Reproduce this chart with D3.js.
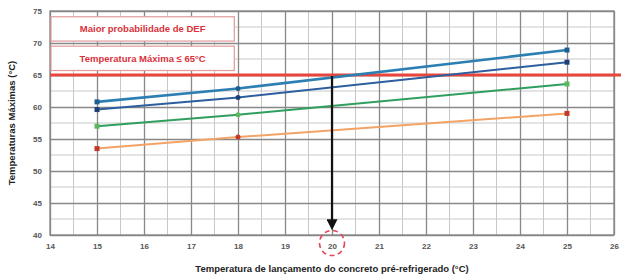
<!DOCTYPE html>
<html>
<head>
<meta charset="utf-8">
<script src="https://cdn.jsdelivr.net/npm/d3@7"></script>
<style>
  body { margin: 0; background: #fff; }
  svg { display: block; }
</style>
</head>
<body>
<div id="chart"></div>
<script>
const width = 621;
const height = 279;

// data
const xTicks = [14, 15, 16, 17, 18, 19, 20, 21, 22, 23, 24, 25, 26];
const yTicks = [40, 45, 50, 55, 60, 65, 70, 75];
const placement = [15, 18, 25];
const seriesTeal = [60.8, 62.9, 68.9];
const seriesNavy = [59.6, 61.5, 67.0];
const seriesGreen = [57.0, 58.8, 63.6];
const seriesOrange = [53.5, 55.3, 59.0];
const limit = 65;
const chosen = 20;
const boxLabels = ["Maior probabilidade de DEF", "Temperatura Máxima ≤ 65°C"];

const series = [
  { name: "orange", values: seriesOrange, color: "#f2a365", mark: "#c0392b" },
  { name: "green", values: seriesGreen, color: "#2f9e5e", mark: "#5cb85c" },
  { name: "navy", values: seriesNavy, color: "#2d5e9e", mark: "#1f3f78" },
  { name: "teal", values: seriesTeal, color: "#2b7fb3", mark: "#1f5f8f" },
];

const margin = { top: 11, right: 6, bottom: 44, left: 50 };

const svg = d3.select("#chart").append("svg")
  .attr("width", width)
  .attr("height", height);

const x = d3.scaleLinear().domain([14, 26]).range([margin.left, width - margin.right - 1]);
const y = d3.scaleLinear().domain([40, 75]).range([height - margin.bottom, margin.top]);

// ------------- grid -------------
const grid = svg.append("g");
grid.selectAll("line.xminor")
  .data(d3.range(14.5, 26, 1))
  .join("line")
  .attr("x1", d => x(d)).attr("x2", d => x(d))
  .attr("y1", y(40)).attr("y2", y(75))
  .attr("stroke", "#c8c8c8").attr("stroke-width", 1);
grid.selectAll("line.yminor")
  .data(d3.range(42.5, 75, 5))
  .join("line")
  .attr("x1", x(14)).attr("x2", x(26))
  .attr("y1", d => y(d)).attr("y2", d => y(d))
  .attr("stroke", "#c8c8c8").attr("stroke-width", 1);

const xAxis = svg.append("g")
  .attr("transform", `translate(0,${y(40)})`)
  .call(d3.axisBottom(x).tickValues(xTicks).tickSize(-(y(40) - y(75))).tickPadding(8));
const yAxis = svg.append("g")
  .attr("transform", `translate(${x(14)},0)`)
  .call(d3.axisLeft(y).tickValues(yTicks).tickSize(-(x(26) - x(14))).tickPadding(8));

[xAxis, yAxis].forEach(ax => {
  ax.select(".domain").remove();
  ax.selectAll(".tick line").attr("stroke", "#888").attr("stroke-width", 1.3);
  ax.selectAll(".tick text")
    .attr("fill", "#555")
    .attr("font-family", "Liberation Sans, Arial")
    .attr("font-weight", "bold")
    .attr("font-size", "8px");
});

svg.append("rect")
  .attr("x", x(14)).attr("y", y(75))
  .attr("width", x(26) - x(14)).attr("height", y(40) - y(75))
  .attr("fill", "none").attr("stroke", "#888").attr("stroke-width", 1.3);

// ------------- boxes -------------
boxLabels.forEach((t, i) => {
  const top = [74.1, 69.5][i];
  const g = svg.append("g");
  g.append("rect")
    .attr("x", x(14) + 1).attr("y", y(top))
    .attr("width", x(17.9) - x(14)).attr("height", y(top - 3.8) - y(top))
    .attr("fill", "#fff").attr("stroke", "#e29a9a").attr("stroke-width", 1.2);
  g.append("text")
    .attr("x", x(14) + 1 + (x(17.9) - x(14)) / 2).attr("y", y(top - 1.9) + 3.5)
    .attr("text-anchor", "middle")
    .attr("fill", "#d8323a")
    .attr("font-family", "Liberation Sans, Arial")
    .attr("font-weight", "bold")
    .attr("font-size", "9.5px")
    .text(t);
});

// ------------- limit line -------------
svg.append("line")
  .attr("x1", x(14)).attr("x2", width)
  .attr("y1", y(limit)).attr("y2", y(limit))
  .attr("stroke", "#e8453c").attr("stroke-width", 3);

// ------------- series -------------
const line = d3.line().x((d, i) => x(placement[i])).y(d => y(d));
series.forEach(s => {
  svg.append("path")
    .datum(s.values)
    .attr("d", line)
    .attr("fill", "none")
    .attr("stroke", s.color)
    .attr("stroke-width", s.name === "teal" ? 2.6 : 2);
  svg.selectAll(null)
    .data(s.values)
    .join("rect")
    .attr("x", (d, i) => x(placement[i]) - 2.5)
    .attr("y", d => y(d) - 2.5)
    .attr("width", 5).attr("height", 5)
    .attr("rx", (d, i) => (i === 1 ? 2.5 : 0))
    .attr("fill", s.mark);
});

// ------------- arrow and circle -------------
svg.append("defs").append("marker")
  .attr("id", "head")
  .attr("viewBox", "0 0 10 10")
  .attr("refX", 5).attr("refY", 5)
  .attr("markerWidth", 5).attr("markerHeight", 5)
  .attr("orient", "auto")
  .append("path").attr("d", "M0,0L10,5L0,10z").attr("fill", "#111");

svg.append("line")
  .attr("x1", x(chosen)).attr("x2", x(chosen))
  .attr("y1", y(limit) + 1).attr("y2", y(41.6))
  .attr("stroke", "#111").attr("stroke-width", 2.2)
  .attr("marker-end", "url(#head)");

svg.append("circle")
  .attr("cx", x(chosen)).attr("cy", y(40) + 8)
  .attr("r", 12.5)
  .attr("fill", "none")
  .attr("stroke", "#e0475a").attr("stroke-width", 1.6)
  .attr("stroke-dasharray", "5,3.5");

// ------------- titles -------------
svg.append("text")
  .attr("x", (x(14) + x(26)) / 2).attr("y", 272)
  .attr("text-anchor", "middle")
  .attr("fill", "#222")
  .attr("font-family", "Liberation Sans, Arial")
  .attr("font-weight", "bold")
  .attr("font-size", "9.5px")
  .text("Temperatura de lançamento do concreto pré-refrigerado (°C)");

svg.append("text")
  .attr("transform", `translate(15,${(y(40) + y(75)) / 2}) rotate(-90)`)
  .attr("text-anchor", "middle")
  .attr("fill", "#222")
  .attr("font-family", "Liberation Sans, Arial")
  .attr("font-weight", "bold")
  .attr("font-size", "9.5px")
  .text("Temperaturas Máximas (°C)");
</script>
</body>
</html>
